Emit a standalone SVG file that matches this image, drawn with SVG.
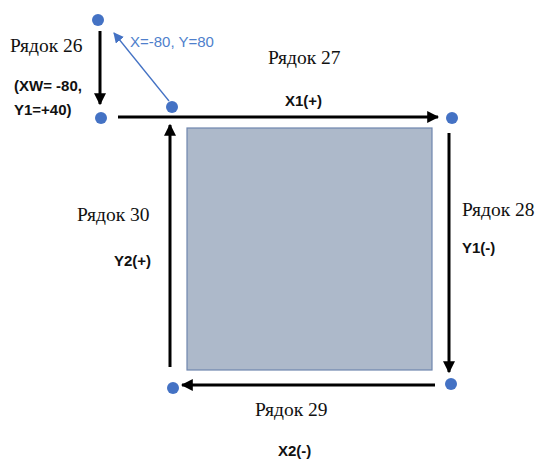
<svg xmlns="http://www.w3.org/2000/svg" width="543" height="459" viewBox="0 0 543 459">
<defs>
<marker id="ah" viewBox="0 0 10 10" refX="9" refY="5" markerWidth="4" markerHeight="4" orient="auto" markerUnits="strokeWidth"><path d="M0,0 L10,5 L0,10 z" fill="#000"/></marker>
<marker id="ahb" viewBox="0 0 10 10" refX="9" refY="5" markerWidth="8" markerHeight="8" orient="auto" markerUnits="strokeWidth"><path d="M0,0 L10,5 L0,10 z" fill="#4472C4"/></marker>
</defs>
<style>
.dot{fill:#4472C4}
.ser{font-family:"Liberation Serif","Times New Roman",serif;font-size:19.5px;fill:#111}
.lbl{font-family:"Liberation Sans",Arial,sans-serif;font-size:15px;font-weight:bold;fill:#111}
.blue{font-family:"Liberation Sans",Arial,sans-serif;font-size:15px;fill:#4F7FCC}
.arr{stroke:#000;stroke-width:3;fill:none;marker-end:url(#ah)}
</style>
<g id="square"><rect x="187" y="128" width="245" height="242" fill="#ADB9CA" stroke="#6F86AE" stroke-width="1.2"/></g>
<g id="connectors">
<line class="arr" x1="100" y1="31" x2="100" y2="104"/>
<line class="arr" x1="118" y1="117" x2="438" y2="117"/>
<line class="arr" x1="449" y1="133" x2="449" y2="372"/>
<line class="arr" x1="435" y1="385" x2="182" y2="385"/>
<line class="arr" x1="170" y1="367" x2="170" y2="125"/>
<line x1="169" y1="101" x2="114" y2="33" stroke="#4472C4" stroke-width="1.3" marker-end="url(#ahb)"/>
</g>
<g id="p1"><circle class="dot" cx="98" cy="20" r="6"/></g>
<g id="p2"><circle class="dot" cx="101" cy="118" r="6"/></g>
<g id="p3"><circle class="dot" cx="172" cy="107" r="6"/></g>
<g id="p4"><circle class="dot" cx="452" cy="118" r="6"/></g>
<g id="p5"><circle class="dot" cx="451" cy="384" r="6"/></g>
<g id="p6"><circle class="dot" cx="173" cy="388" r="6"/></g>
<g id="labels">
<text class="ser" x="10" y="52">Рядок 26</text>
<text class="lbl" x="14" y="91">(XW= -80,</text>
<text class="lbl" x="14" y="115">Y1=+40)</text>
<text class="blue" x="130" y="47">X=-80, Y=80</text>
<text class="ser" x="268" y="64">Рядок 27</text>
<text class="lbl" x="285" y="106">X1(+)</text>
<text class="ser" x="462" y="216">Рядок 28</text>
<text class="lbl" x="462" y="253">Y1(-)</text>
<text class="ser" x="77" y="221">Рядок 30</text>
<text class="lbl" x="114" y="266">Y2(+)</text>
<text class="ser" x="255" y="416">Рядок 29</text>
<text class="lbl" x="278" y="456">X2(-)</text>
</g>
</svg>
